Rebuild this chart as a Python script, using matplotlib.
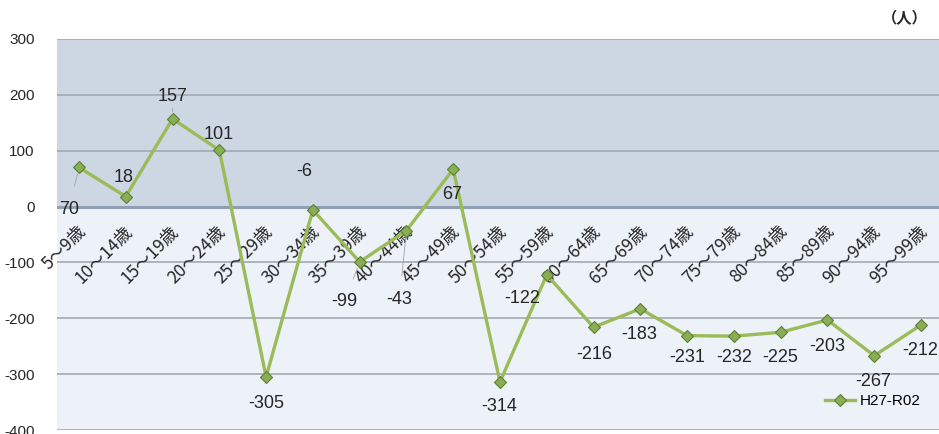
import matplotlib
matplotlib.use("Agg")
import matplotlib.pyplot as plt
from matplotlib.lines import Line2D

plt.rcParams['font.family'] = ['Liberation Sans', 'Noto Sans CJK JP', 'DejaVu Sans']

categories = ["5～9歳", "10～14歳", "15～19歳", "20～24歳", "25～29歳", "30～34歳",
              "35～39歳", "40～44歳", "45～49歳", "50～54歳", "55～59歳", "60～64歳",
              "65～69歳", "70～74歳", "75～79歳", "80～84歳", "85～89歳", "90～94歳",
              "95～99歳"]
values = [70, 18, 157, 101, -305, -6, -99, -43, 67, -314, -122, -216, -183,
          -231, -232, -225, -203, -267, -212]
series_name = "H27-R02"
unit_label = "（人）"
yticks = [300, 200, 100, 0, -100, -200, -300, -400]

# label offsets in pixels (dx, dy) and whether a leader line is drawn
label_offsets = [(-10, -42), (-2, 19), (0, 22), (-1, 16), (0, -27), (-9, 38),
                 (-15, -40), (-7, -69), (-1, -25), (-1, -25), (-25, -24), (1, -27),
                 (-1, -26), (0, -22), (0, -21), (0, -25), (0, -27), (-1, -26), (-1, -26)]
leaders = {0, 2, 6, 7}

fig = plt.figure(figsize=(9.39, 4.34), dpi=100)
ax = fig.add_axes([57/939, 4/434, 1 - 57/939, (430-39)/434])

n = len(categories)
xs = list(range(n))
ax.set_xlim(-0.47, n - 1 + 0.385)
ax.set_ylim(-400, 300)

# background bands
ax.axhspan(0, 300, color='#CDD7E3', zorder=0, lw=0)
ax.axhspan(-400, 0, color='#EDF1F8', zorder=0, lw=0)

for t in yticks:
    if t == 0:
        ax.axhline(t, color='#8FA0B4', lw=2.2, zorder=1)
    else:
        ax.axhline(t, color='#A3A9B2', lw=1.2, zorder=1)

ax.plot(xs, values, color='#9BBB59', lw=2.4, marker='D', markersize=6.5,
        markerfacecolor='#8AAE55', markeredgecolor='#5F7F33', markeredgewidth=0.8,
        zorder=3, label=series_name)

for i, (v, (dx, dy)) in enumerate(zip(values, label_offsets)):
    if i in leaders:
        ax.annotate(str(v), xy=(i, v), xytext=(dx, dy), textcoords='offset pixels',
                    ha='center', va='center', fontsize=13, color='#262626', zorder=4,
                    arrowprops=dict(arrowstyle='-', color='#A0A0A0', lw=0.6,
                                    shrinkA=9, shrinkB=5))
    else:
        ax.annotate(str(v), xy=(i, v), xytext=(dx, dy), textcoords='offset pixels',
                    ha='center', va='center', fontsize=13, color='#262626', zorder=4)

# category labels placed just below the zero line
for i, c in enumerate(categories):
    ax.annotate(c, xy=(i, 0), xytext=(4, -22), textcoords='offset pixels',
                rotation=45, rotation_mode='anchor', ha='right', va='center',
                fontsize=12.5, color='#262626', family=['Noto Sans CJK JP', 'DejaVu Sans'],
                zorder=2)

ax.set_yticks(yticks)
ax.set_yticklabels([str(t) for t in yticks], fontsize=11, color='#262626')
ax.tick_params(axis='y', length=0, pad=16)
ax.set_xticks([])
for s in ax.spines.values():
    s.set_visible(False)

fig.text(905/939, 1 - 18/434, unit_label, ha='center', va='center', fontsize=11,
         fontweight='bold', family=['Noto Sans CJK JP', 'DejaVu Sans'], color='#262626')

handle = Line2D([], [], color='#9BBB59', lw=2.4, marker='D', markersize=6,
                markerfacecolor='#8AAE55', markeredgecolor='#5F7F33', markeredgewidth=0.8)
ax.legend([handle], [series_name], loc='lower right', bbox_to_anchor=(0.995, 0.02),
          frameon=False, fontsize=11, handlelength=2.0, handletextpad=0.3)

fig.savefig("out.png", dpi=100)
